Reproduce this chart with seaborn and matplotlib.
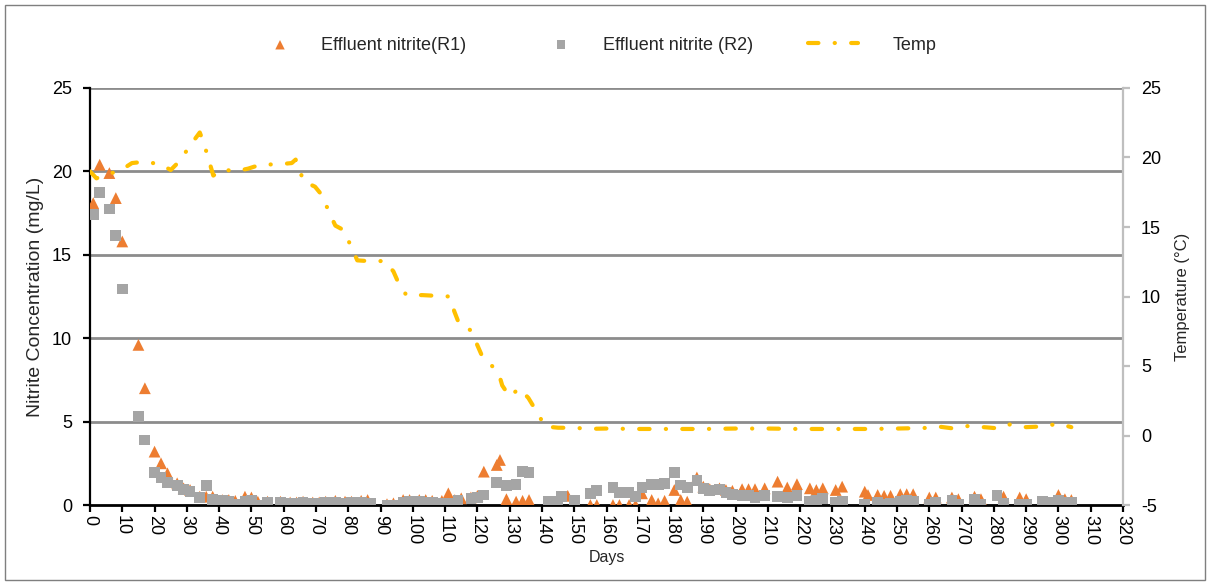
import matplotlib
matplotlib.use("Agg")
import matplotlib.pyplot as plt
from matplotlib.patches import Rectangle
import seaborn as sns
import pandas as pd

# ---------------- data ----------------
days_r1 = [1, 3, 6, 8, 10, 15, 17, 20, 22, 24, 27, 29, 31, 34, 36, 38, 41, 43, 45, 48,
           50, 52, 55, 59, 62, 64, 66, 69, 71, 73, 76, 79, 81, 84, 86, 92, 94, 97, 99, 102,
           104, 106, 109, 111, 113, 115, 118, 120, 122, 126, 127, 129, 132, 134, 136, 142, 145, 148, 150, 155,
           157, 162, 164, 167, 169, 171, 174, 176, 178, 181, 183, 185, 188, 190, 192, 195, 197, 199, 202, 204,
           206, 209, 213, 216, 219, 223, 225, 227, 231, 233, 240, 241, 244, 246, 248, 251, 253, 255, 260, 262,
           267, 269, 274, 276, 283, 288, 290, 300, 302, 304]
nitrite_r1 = [18.1, 20.4, 19.9, 18.4, 15.8, 9.6, 7.0, 3.2, 2.5, 1.9, 1.3, 1.0, 0.9, 0.5, 0.5, 0.5, 0.3, 0.3, 0.25, 0.5,
              0.45, 0.2, 0.2, 0.2, 0.15, 0.15, 0.2, 0.15, 0.15, 0.2, 0.25, 0.2, 0.2, 0.25, 0.3, 0.05, 0.1, 0.3, 0.3, 0.3,
              0.3, 0.25, 0.25, 0.7, 0.3, 0.4, 0.45, 0.55, 2.0, 2.4, 2.7, 0.35, 0.2, 0.25, 0.3, 0.0, 0.0, 0.55, 0.0, 0.0,
              0.0, 0.0, 0.0, 0.0, 0.0, 0.7, 0.3, 0.1, 0.25, 0.9, 0.3, 0.2, 1.65, 1.1, 0.95, 1.0, 0.9, 0.85, 0.95, 0.95,
              0.95, 1.0, 1.4, 1.05, 1.25, 1.0, 0.9, 1.0, 0.9, 1.1, 0.8, 0.6, 0.6, 0.55, 0.55, 0.65, 0.65, 0.65, 0.45, 0.45,
              0.45, 0.35, 0.5, 0.35, 0.5, 0.45, 0.35, 0.6, 0.35, 0.3]

days_r2 = [1, 3, 6, 8, 10, 15, 17, 20, 22, 24, 27, 29, 31, 34, 36, 38, 41, 43, 45, 48,
           50, 52, 55, 59, 62, 64, 66, 69, 71, 73, 76, 79, 81, 84, 87, 92, 94, 97, 99, 102,
           104, 106, 109, 111, 114, 118, 120, 122, 126, 129, 132, 134, 136, 142, 145, 146, 150, 155, 157, 162,
           164, 167, 169, 171, 174, 176, 178, 181, 183, 185, 188, 190, 192, 195, 197, 199, 202, 204, 206, 209,
           213, 216, 219, 223, 225, 227, 231, 233, 240, 244, 246, 248, 251, 253, 255, 260, 262, 267, 269, 274,
           276, 281, 283, 288, 290, 295, 297, 300, 302, 304]
nitrite_r2 = [17.4, 18.75, 17.75, 16.15, 12.95, 5.3, 3.9, 1.95, 1.65, 1.35, 1.15, 0.95, 0.8, 0.45, 1.15, 0.35, 0.3, 0.2, 0.05, 0.2,
              0.3, 0.0, 0.15, 0.15, 0.1, 0.1, 0.15, 0.1, 0.1, 0.15, 0.15, 0.1, 0.15, 0.15, 0.1, 0.0, 0.0, 0.15, 0.2, 0.2,
              0.15, 0.15, 0.1, 0.1, 0.3, 0.4, 0.45, 0.6, 1.35, 1.15, 1.25, 2.0, 1.95, 0.2, 0.2, 0.5, 0.3, 0.7, 0.85, 1.05,
              0.75, 0.75, 0.5, 1.05, 1.25, 1.25, 1.3, 1.95, 1.2, 1.05, 1.45, 1.0, 0.85, 0.95, 0.75, 0.65, 0.55, 0.55, 0.45, 0.55,
              0.5, 0.45, 0.55, 0.2, 0.3, 0.4, 0.15, 0.2, 0.05, 0.15, 0.05, 0.1, 0.2, 0.3, 0.2, 0.05, 0.15, 0.3, 0.05, 0.35,
              0.05, 0.55, 0.1, 0.05, 0.05, 0.2, 0.15, 0.25, 0.15, 0.15]

temp_days = [0, 2, 5, 9, 13, 17, 22, 25, 28, 30.5, 34, 35.3, 36.7, 38.2, 41, 45, 49, 53, 58, 62.5,
             63.7, 64.7, 66, 69.7, 72, 73.8, 76, 78.4, 80.7, 82.8, 86, 91.4, 94, 95.7, 98, 103, 107, 111.3, 112.9, 114.4,
             117.7, 119.8, 121.3, 124.2, 126.7, 127.7, 130, 133, 135.8, 138.4, 141, 145, 150, 155, 160, 170, 180, 190, 200, 210,
             220, 230, 240, 250, 260, 263, 267, 272, 278, 282, 285, 290, 295, 300, 304]
temp_vals = [19.0, 18.5, 18.8, 19.0, 19.6, 19.7, 19.5, 19.1, 19.8, 20.7, 21.8, 21.0, 19.9, 18.7, 19.15, 19.0, 19.2, 19.5, 19.5, 19.6,
             19.85, 19.4, 18.3, 17.9, 17.25, 16.2, 15.1, 14.8, 13.7, 12.6, 12.55, 12.55, 11.8, 10.9, 10.1, 10.1, 10.05, 10.0, 8.9, 8.0,
             7.6, 6.6, 5.8, 5.1, 4.4, 3.6, 2.8, 3.4, 2.7, 1.7, 0.65, 0.56, 0.55, 0.48, 0.5, 0.47, 0.47, 0.47, 0.5, 0.5,
             0.47, 0.47, 0.47, 0.5, 0.55, 0.64, 0.52, 0.68, 0.58, 0.5, 0.8, 0.6, 0.65, 0.85, 0.6]

x_ticks = list(range(0, 321, 10))
y_ticks = [0, 5, 10, 15, 20, 25]
t_ticks = [-5, 0, 5, 10, 15, 20, 25]

labels = ["Effluent nitrite(R1)", "Effluent nitrite (R2)", "Temp"]

# ---------------- style ----------------
sns.set_style("white")
plt.rcParams["font.family"] = ["Liberation Sans", "DejaVu Sans"]

C_R1 = "#ED7D31"
C_R2 = "#A5A5A5"
C_T = "#FFC000"

W, H = 1210, 584
fig = plt.figure(figsize=(W / 100, H / 100), dpi=100)
ax = fig.add_axes([90 / W, 79 / H, 1033 / W, 417 / H])
ax2 = ax.twinx()

df1 = pd.DataFrame({"day": days_r1, "val": nitrite_r1})
df2 = pd.DataFrame({"day": days_r2, "val": nitrite_r2})
dft = pd.DataFrame({"day": temp_days, "temp": temp_vals})

sns.scatterplot(data=df1, x="day", y="val", ax=ax, marker="^", s=72, color=C_R1,
                edgecolor="none", linewidth=0, legend=False, zorder=3)
sns.scatterplot(data=df2, x="day", y="val", ax=ax, marker="s", s=60, color=C_R2,
                edgecolor="none", linewidth=0, legend=False, zorder=4)
sns.lineplot(data=dft, x="day", y="temp", ax=ax2, color=C_T, linewidth=3.0,
             legend=False, sort=False, errorbar=None)
tline = ax2.lines[0]
tline.set_linestyle((0, (2.5, 3.9, 0.05, 3.9)))
tline.set_dash_capstyle("round")
tline.set_solid_capstyle("round")

ax.collections[0].set_label(labels[0])
ax.collections[1].set_label(labels[1])
tline.set_label(labels[2])

# ---------------- axes ----------------
ax.set_xlim(0, 320)
ax.set_ylim(0, 25)
ax2.set_ylim(-5, 25)
ax.set_xticks(x_ticks)
ax.set_yticks(y_ticks)
ax2.set_yticks(t_ticks)

ax.set_xticklabels([str(v) for v in x_ticks], rotation=-90, fontsize=13)
ax.set_yticklabels([str(v) for v in y_ticks], fontsize=13)
ax2.set_yticklabels([str(v) for v in t_ticks], fontsize=13)

ax.grid(False)
ax2.grid(False)
for v in y_ticks[1:]:
    ax.axhline(v, color="#8C8C8C", lw=2.0, zorder=0.5)

for s in ["top", "right"]:
    ax.spines[s].set_visible(False)
for s in ["top", "left", "bottom"]:
    ax2.spines[s].set_visible(False)
ax.spines["left"].set_color("black")
ax.spines["left"].set_linewidth(1.6)
ax.spines["bottom"].set_color("black")
ax.spines["bottom"].set_linewidth(2.0)
ax2.spines["right"].set_color("#BFBFBF")
ax2.spines["right"].set_linewidth(1.6)

ax.tick_params(axis="x", direction="out", length=5, width=1.6, color="black", pad=2,
               bottom=True, labelcolor="black")
ax.tick_params(axis="y", direction="out", length=5, width=1.6, color="black", pad=8,
               left=True, labelcolor="black")
ax2.tick_params(axis="y", direction="out", length=5, width=1.6, color="#BFBFBF", pad=8,
                right=True, labelcolor="black")

ax.set_xlabel("Days", fontsize=11.5)
ax.xaxis.set_label_coords(0.5, -0.108)
ax.set_ylabel("Nitrite Concentration (mg/L)", fontsize=14)
ax.yaxis.set_label_coords(-0.045, 0.5)
ax2.set_ylabel("Temperature (°C)", fontsize=12)
ax2.yaxis.set_label_coords(1.050, 0.5)

# ---------------- legend (three entries placed individually) ----------------
fs = 13
em = fs * 100 / 72.0  # px per em
legend_specs = [
    # handle, label, handle start px, handle length px, text start px
    (ax.collections[0], labels[0], 262, 36, 321),
    (ax.collections[1], labels[1], 543, 36, 603),
    (tline, labels[2], 808, 50, 893),
]
for h, lab, x0, hl, xt in legend_specs:
    leg = fig.legend([h], [lab], loc="center left", bbox_to_anchor=(x0 / W, 1 - 45 / H),
                     frameon=False, fontsize=fs, borderpad=0, borderaxespad=0,
                     handlelength=hl / em, handletextpad=(xt - x0 - hl) / em,
                     markerscale=0.8)

# outer frame
fig.add_artist(Rectangle((5 / W, 4 / H), 1200 / W, 575 / H,
                         transform=fig.transFigure, fill=False,
                         edgecolor="#7F7F7F", linewidth=1.0))

fig.savefig("out.png", dpi=100)
